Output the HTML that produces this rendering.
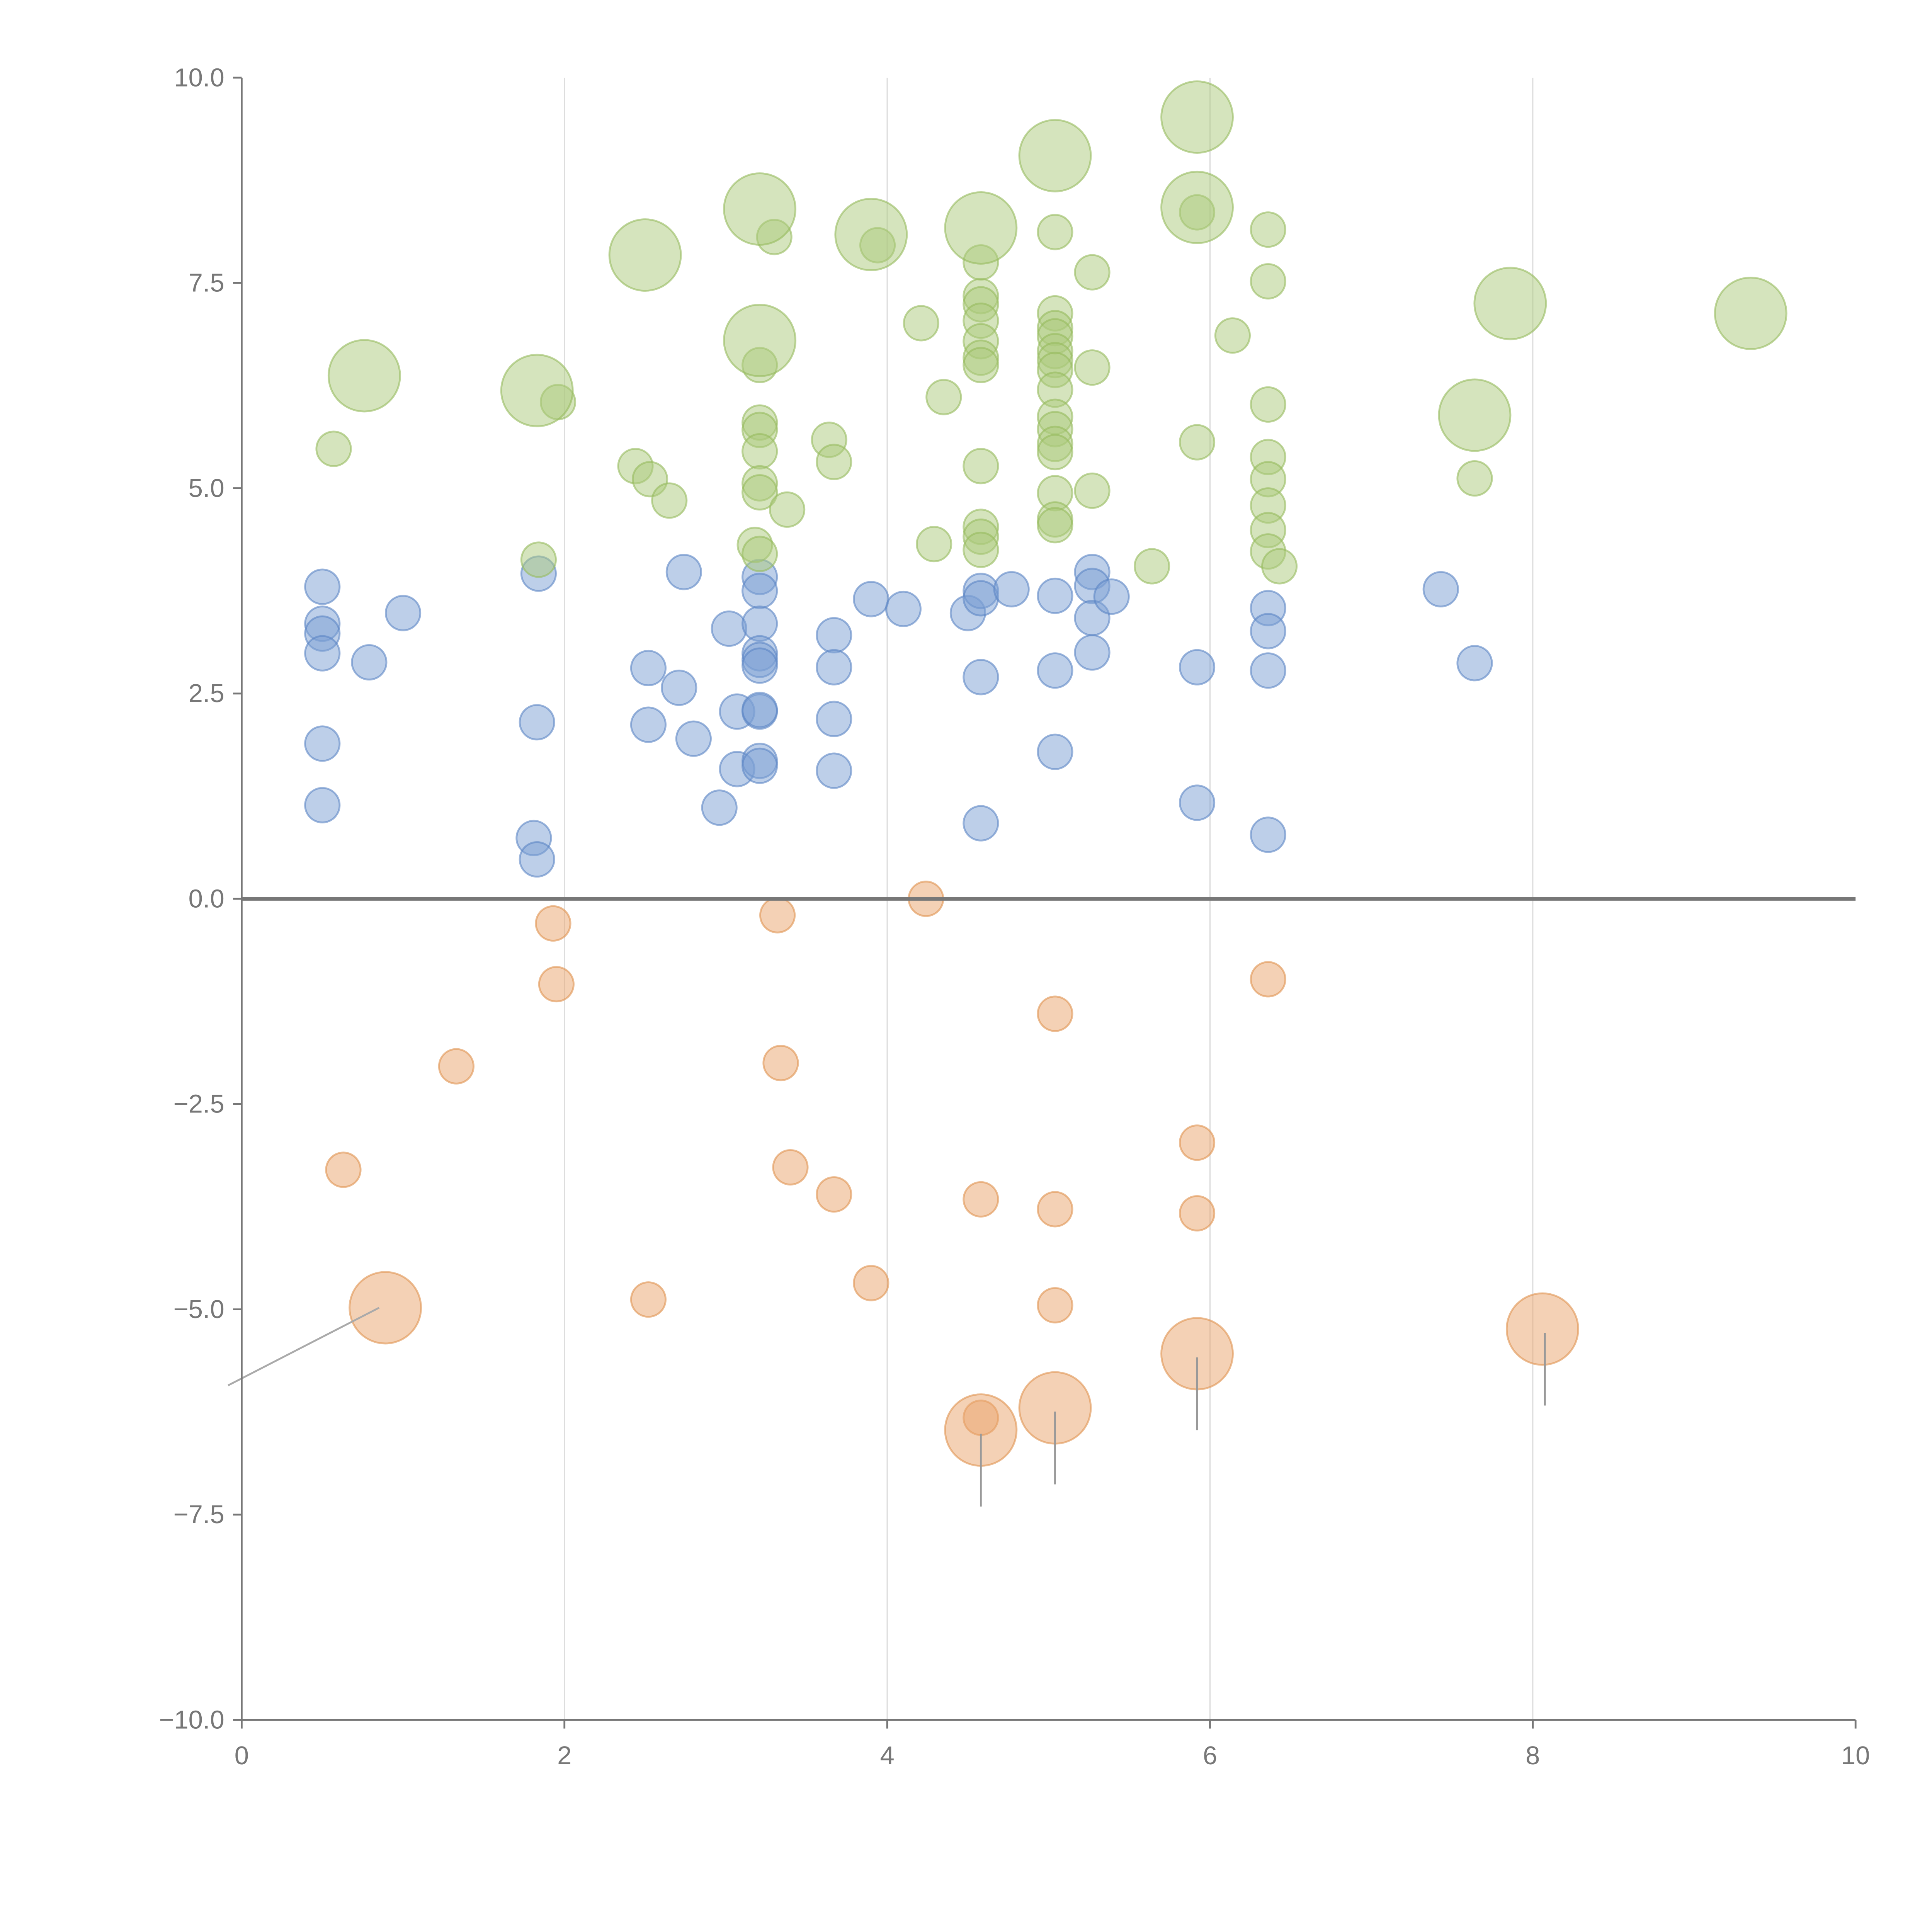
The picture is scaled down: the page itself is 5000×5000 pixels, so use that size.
<!DOCTYPE html>
<html><head><meta charset="utf-8"><style>
html,body{margin:0;padding:0;background:#fff;}
svg{display:block;}
text{font-family:"Liberation Sans",Arial,sans-serif;fill:#777;font-size:21px;}
</style></head><body>
<svg id="chart" width="5000" height="5000" viewBox="0 0 1567 1567" xmlns="http://www.w3.org/2000/svg">
<g id="grid"></g>
<g id="marks"></g>
<g id="axes"></g>
</svg>
<script>
const greenSmallX=[0.57,1.96,1.84,2.44,2.53,2.65,3.21,3.21,3.21,3.21,3.21,3.18,3.21,3.21,3.30,3.38,3.64,3.67,3.94,4.21,4.35,4.29,4.58,4.58,4.58,4.58,4.58,4.58,4.58,4.58,4.58,4.58,4.58,5.04,5.04,5.04,5.04,5.04,5.04,5.04,5.04,5.04,5.04,5.04,5.04,5.04,5.04,5.04,5.27,5.27,5.27,5.64,5.92,5.92,6.14,6.36,6.36,6.36,6.36,6.36,6.36,6.36,6.36,6.43,7.64];
const greenSmallY=[5.48,6.05,4.13,5.27,5.11,4.85,5.80,5.71,5.45,5.06,4.95,4.31,4.20,6.50,8.06,4.74,5.59,5.32,7.96,7.01,6.11,4.32,7.75,7.34,7.24,7.04,6.79,6.59,6.50,5.27,4.53,4.41,4.25,8.12,7.13,6.95,6.85,6.67,6.56,6.44,6.20,5.87,5.72,5.54,5.44,4.94,4.62,4.55,7.63,6.47,4.97,4.05,5.56,8.36,6.86,8.15,7.52,6.02,5.38,5.11,4.79,4.49,4.23,4.05,5.12];
const greenLargeX=[0.76,1.83,2.50,3.21,3.21,3.90,4.58,5.04,5.92,5.92,7.86,7.64,9.35];
const greenLargeY=[6.37,6.19,7.84,8.40,6.80,8.09,8.17,9.05,9.52,8.42,7.25,5.89,7.13];
const blueX=[0.50,0.50,0.50,0.50,0.50,0.50,0.79,1.00,1.81,1.83,1.83,1.84,2.52,2.52,2.71,2.74,2.80,2.96,3.02,3.07,3.07,3.21,3.21,3.21,3.21,3.21,3.21,3.21,3.21,3.21,3.21,3.67,3.67,3.67,3.67,3.90,4.10,4.50,4.58,4.58,4.58,4.58,4.77,5.04,5.04,5.04,5.27,5.27,5.27,5.27,5.39,5.92,5.92,6.36,6.36,6.36,6.36,7.43,7.64];
const blueY=[3.80,3.35,3.23,2.99,1.89,1.14,2.88,3.48,0.74,0.48,2.15,3.96,2.81,2.12,2.57,3.98,1.95,1.11,3.29,2.28,1.58,3.92,3.75,3.35,2.99,2.91,2.84,2.28,2.30,1.68,1.62,3.21,2.82,2.19,1.56,3.65,3.53,3.48,3.75,3.66,2.70,0.92,3.77,3.69,2.78,1.79,3.98,3.81,3.42,3.00,3.68,2.82,1.17,3.54,3.26,2.78,0.78,3.77,2.87];
const orangeSmallX=[1.93,1.95,1.33,0.63,2.52,3.32,3.34,3.40,3.67,3.90,4.24,4.58,4.58,5.04,5.04,5.04,5.92,5.92,6.36];
const orangeSmallY=[-0.30,-1.04,-2.04,-3.30,-4.88,-0.20,-2.00,-3.27,-3.60,-4.68,0.00,-3.66,-6.32,-1.40,-3.78,-4.95,-2.97,-3.83,-0.98];
const orangeLargeX=[0.89,4.58,5.04,5.92,8.06];
const orangeLargeY=[-4.98,-6.47,-6.20,-5.54,-5.24];
const xTicks=[0,2,4,6,8,10];
const yTicks=[10,7.5,5,2.5,0,-2.5,-5,-7.5,-10];

const X0=196,X1=1505,Y0=1395,Y1=63;
function sx(v){return X0+(v-0)/(10-0)*(X1-X0);}
function sy(v){return Y0-(v+10)/20*(Y0-Y1);}
const NS="http://www.w3.org/2000/svg";
function mk(tag,attrs,parent){const e=document.createElementNS(NS,tag);for(const k in attrs)e.setAttribute(k,attrs[k]);parent.appendChild(e);return e;}
const grid=document.getElementById('grid'),marks=document.getElementById('marks'),axes=document.getElementById('axes');

xTicks.forEach(t=>{if(t>0&&t<10){const l=mk('line',{x1:sx(t),x2:sx(t),y1:Y1,y2:Y0,stroke:'#ddd','stroke-width':1},grid);

}});

function bubbles(xs,ys,r,fill,stroke,name){
  xs.forEach((x,i)=>{const c=mk('circle',{cx:sx(x),cy:sy(ys[i]),r:r,fill:fill,'fill-opacity':0.5,stroke:stroke,'stroke-opacity':0.6,'stroke-width':1.5},marks);
  
  });
}
bubbles(blueX,blueY,14,'#7b9fd4','#5b85c4','blue-bubble');
bubbles(greenSmallX,greenSmallY,14,'#acc97c','#96bb5e','green-bubble');
bubbles(greenLargeX,greenLargeY,29,'#acc97c','#96bb5e','green-large-bubble');
bubbles(orangeSmallX,orangeSmallY,14,'#e9a46b','#df9250','orange-bubble');
bubbles(orangeLargeX,orangeLargeY,29,'#e9a46b','#df9250','orange-large-bubble');

orangeLargeX.forEach((x,i)=>{
  let l;
  if(i===0){l=mk('line',{x1:sx(x)-5,y1:sy(orangeLargeY[i]),x2:185,y2:sy(orangeLargeY[i])+63,stroke:'#aaa','stroke-width':1.5},marks);}
  else{l=mk('line',{x1:sx(x)+(i===4?2:0),y1:sy(orangeLargeY[i])+3,x2:sx(x)+(i===4?2:0),y2:sy(orangeLargeY[i])+62,stroke:'#999','stroke-width':1.5},marks);}
  
  
});

let a=mk('line',{x1:X0,x2:X0,y1:Y1,y2:Y0,stroke:'#777','stroke-width':1.5},axes);


a=mk('line',{x1:X0,x2:X1,y1:Y0,y2:Y0,stroke:'#777','stroke-width':1.5},axes);


a=mk('line',{x1:X0,x2:X1,y1:sy(0),y2:sy(0),stroke:'#777','stroke-width':3},axes);



xTicks.forEach(t=>{
  const tk=mk('line',{x1:sx(t),x2:sx(t),y1:Y0,y2:Y0+7,stroke:'#777','stroke-width':1.5},axes);
  
  
  const tx=mk('text',{x:sx(t),y:Y0+36,'text-anchor':'middle'},axes);tx.textContent=String(t);
  
  
});
yTicks.forEach(t=>{
  const tk=mk('line',{x1:X0-7,x2:X0,y1:sy(t),y2:sy(t),stroke:'#777','stroke-width':1.5},axes);
  
  
  const tx=mk('text',{x:X0-14,y:sy(t)+7,'text-anchor':'end'},axes);tx.textContent=t.toFixed(1).replace('-','\u2212');
  
  
});
</script>
</body></html>
